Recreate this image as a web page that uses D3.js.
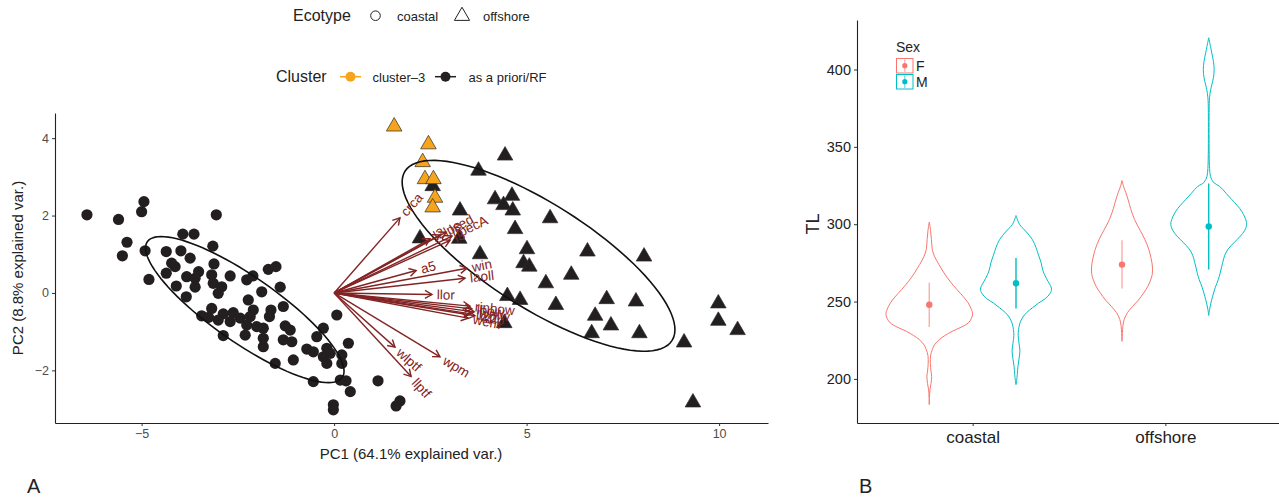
<!DOCTYPE html>
<html>
<head>
<meta charset="utf-8">
<script src="https://cdn.jsdelivr.net/npm/d3@7"></script>
<style>
body { margin: 0; background: #fff; }
text { font-family: "Liberation Sans", Arial, Helvetica, sans-serif; }
</style>
</head>
<body>
<div id="chart"></div>
<script>
// ---- panel A: PCA scores ----
var coastalX = [-6.42,-5.60,-4.94,-5.00,-3.06,-5.38,-5.50,-4.91,-4.81,-3.93,-3.64,-3.15,-4.36,-3.98,-3.74,-4.22,-4.13,-4.36,-3.12,-3.83,
  -3.52,-3.61,-4.10,-3.61,-3.18,-3.14,-2.92,-3.01,-2.70,-3.84,-2.27,-2.11,-1.71,-1.51,-1.40,-1.88,-2.23,-3.18,-3.44,-3.26,
  -2.88,-2.62,-3.01,-2.70,-2.44,-2.10,-2.18,-2.27,-2.01,-1.84,-2.31,-2.88,-1.64,-1.68,-1.32,-1.27,-1.14,-1.32,-1.10,-1.84,
  -1.84,-1.53,-1.06,-0.71,-0.54,-0.45,-0.28,-0.19,-0.28,-0.10,-0.19,0.20,0.20,0.37,0.07,-0.54,0.16,0.31,0.42,-0.02,
  -0.02,1.14,1.61,1.71];
var coastalY = [2.02,1.90,2.36,2.10,2.02,1.31,0.96,1.09,0.35,1.52,1.52,1.21,1.07,1.09,0.90,0.77,0.68,0.51,0.75,0.42,
  0.55,0.38,0.18,0.15,0.47,0.25,0.16,-0.01,0.44,-0.10,0.34,0.44,0.61,0.68,0.15,0.03,-0.18,-0.40,-0.59,-0.63,
  -0.54,-0.51,-0.70,-0.74,-0.65,-0.44,-0.61,-0.83,-0.87,-0.91,-1.09,-1.10,-0.44,-0.61,-0.35,-0.85,-0.96,-1.21,-1.26,-1.17,
  -1.39,-1.82,-1.73,-1.45,-1.52,-1.13,-0.91,-1.43,-1.65,-1.56,-1.82,-1.60,-1.82,-1.30,-0.57,-2.29,-2.25,-2.27,-2.55,-2.89,
  -3.02,-2.27,-2.92,-2.79];

var offshoreX = [2.56,4.44,3.75,4.18,4.62,4.40,4.64,3.27,5.61,4.70,2.23,3.25,5.01,3.79,4.92,5.07,6.58,8.05,6.16,5.50,
  4.50,4.83,5.76,7.08,7.84,9.98,6.78,7.19,9.98,10.48,4.42,6.69,7.93,9.09,9.32,
  1.56,2.45,2.30,2.36,2.58,2.62,2.56];
var offshoreY = [2.76,3.55,3.16,2.42,2.51,2.27,2.13,2.13,1.93,1.65,1.41,1.40,1.13,1.00,0.77,0.68,1.07,0.94,0.47,0.25,
  -0.08,-0.18,-0.31,-0.16,-0.22,-0.27,-0.59,-0.84,-0.72,-0.96,-0.78,-1.04,-1.04,-1.28,-2.83,
  4.30,3.84,3.38,2.94,2.94,2.46,2.21];
var offshoreCluster = ["rf","rf","rf","rf","rf","rf","rf","rf","rf","rf","rf","rf","rf","rf","rf","rf","rf","rf","rf","rf",
  "rf","rf","rf","rf","rf","rf","rf","rf","rf","rf","rf","rf","rf","rf","rf",
  "c3","c3","c3","c3","c3","c3","c3"];

// variable loadings (arrows)
var varNames = ["crca","lpecA","lsed","l3","lpe","l2","a5","win","laoll","llor",
  "rinbow","lbow","wmw","wem","ll2p","w2p","wlptf","llptf","wpm"];
var varX = [1.71,3.06,2.91,3.01,2.75,2.49,2.13,3.45,3.40,2.54,
  3.53,3.58,3.64,3.48,3.56,3.66,1.58,2.00,2.75];
var varY = [1.94,1.47,1.57,1.36,1.50,1.40,0.58,0.64,0.38,-0.04,
  -0.34,-0.41,-0.49,-0.65,-0.54,-0.59,-1.40,-2.16,-1.65];

// normal data ellipses per ecotype
var ellGroup = ["coastal","offshore"];
var ellCx = [-2.32, 5.31];
var ellCy = [-0.43, 0.96];
var ellA = [3.08, 4.10];
var ellB = [0.85, 1.35];
var ellAngle = [-34.7, -32.2];

// ---- panel B: TL violins ----
var ecotypes = ["coastal","offshore"];
var sexes = ["F","M"];
var sexColor = ["#F8766D","#00BFC4"];
var coastalF = [[183.4,0],[188,0.005],[193,0.015],[197,0.04],[201.7,0.055],[205,0.04],[210,0.025],[215,0.03],[219,0.07],[222,0.12],
  [225.4,0.23],[228,0.36],[230.8,0.53],[233.5,0.74],[236.2,0.9],[239,0.97],[242.2,1],[245,0.97],[249,0.9],[253,0.79],
  [257.7,0.64],[263,0.48],[268.5,0.34],[274,0.22],[279.3,0.12],[283.6,0.07],[290,0.05],[296,0.03],[301.3,0]];
var coastalM = [[196.3,0],[199,0.015],[203,0.03],[208,0.045],[213,0.07],[218,0.09],[223,0.07],[228,0.05],[232,0.06],[236,0.09],
  [240,0.16],[243,0.25],[246,0.38],[249,0.52],[252,0.68],[255,0.78],[258,0.82],[261,0.78],[265,0.7],[270,0.62],
  [275,0.58],[280,0.52],[285,0.46],[290,0.38],[295,0.24],[300,0.08],[305.6,0]];
var offshoreF = [[224.3,0],[230,0.01],[234,0.02],[238.4,0.05],[243,0.13],[247,0.25],[251,0.38],[255.6,0.5],[260,0.6],[264,0.66],
  [268,0.7],[273,0.7],[278,0.67],[283.6,0.62],[290,0.53],[296,0.42],[303,0.29],[310,0.2],[315,0.15],[320.3,0.09],
  [324,0.04],[328.2,0]];
var offshoreM = [[241,0],[245,0.02],[249,0.05],[253.4,0.09],[259,0.15],[264.2,0.22],[268,0.26],[272.8,0.3],[276,0.33],[280,0.37],
  [284,0.45],[288,0.58],[292,0.72],[296,0.83],[300,0.875],[304,0.84],[308.4,0.76],[312,0.66],[316,0.53],[320,0.4],
  [324.5,0.25],[327,0.11],[331,0.04],[336,0.02],[345,0.01],[355,0.008],[370,0.008],[378,0.012],[382,0.02],[387,0.045],
  [390,0.07],[395,0.11],[400,0.125],[405,0.11],[410.8,0.07],[415,0.04],[420.5,0]];
var sumEco = ["coastal","coastal","offshore","offshore"];
var sumSex = ["F","M","F","M"];
var sumMean = [247.9, 261.8, 273.9, 298.5];
var sumLo = [233.6, 245.5, 258.4, 270.7];
var sumHi = [262.1, 278.2, 289.6, 326.3];

var W = 1279, H = 498;
var svg = d3.select("#chart").append("svg").attr("width", W).attr("height", H);

var dark = "#231f20", orange = "#F7A41D", loadCol = "#832424";

// ================= panel A =================
var xA = d3.scaleLinear().domain([-7.25, 11.27]).range([55, 768]);
var yA = d3.scaleLinear().domain([-3.36, 4.65]).range([423, 113]);

var gA = svg.append("g");

// points
var circles = coastalX.map(function(d, i) { return {x: d, y: coastalY[i]}; });
gA.selectAll(".cpt").data(circles).enter().append("circle")
  .attr("cx", function(d) { return xA(d.x); })
  .attr("cy", function(d) { return yA(d.y); })
  .attr("r", 5.6)
  .attr("fill", dark);

var tris = offshoreX.map(function(d, i) { return {x: d, y: offshoreY[i], c: offshoreCluster[i]}; });
tris.sort(function(a, b) { return (a.c === "c3") - (b.c === "c3"); });
var triSym = d3.symbol().type(d3.symbolTriangle).size(105);
gA.selectAll(".tpt").data(tris).enter().append("path")
  .attr("d", triSym)
  .attr("transform", function(d) { return "translate(" + xA(d.x) + "," + yA(d.y) + ")"; })
  .attr("fill", function(d) { return d.c === "c3" ? orange : dark; })
  .attr("stroke", "#2b2b2b")
  .attr("stroke-width", 0.7);

// ellipses
var ellLine = d3.line().x(function(p) { return xA(p[0]); }).y(function(p) { return yA(p[1]); });
ellGroup.forEach(function(g, k) {
  var th = ellAngle[k] * Math.PI / 180;
  var pts = d3.range(0, 101).map(function(j) {
    var t = j / 100 * 2 * Math.PI;
    var u = ellA[k] * Math.cos(t), v = ellB[k] * Math.sin(t);
    return [ellCx[k] + u * Math.cos(th) - v * Math.sin(th), ellCy[k] + u * Math.sin(th) + v * Math.cos(th)];
  });
  gA.append("path").attr("d", ellLine(pts))
    .attr("fill", "none").attr("stroke", "#111").attr("stroke-width", 1.6);
});

// loading arrows
var ox = xA(0), oy = yA(0);
varNames.forEach(function(name, i) {
  var ex = xA(varX[i]), ey = yA(varY[i]);
  var ang = Math.atan2(ey - oy, ex - ox);
  var L = 8, sp = Math.PI / 6;
  gA.append("line").attr("x1", ox).attr("y1", oy).attr("x2", ex).attr("y2", ey)
    .attr("stroke", loadCol).attr("stroke-width", 1.4);
  gA.append("path")
    .attr("d", "M" + (ex - L * Math.cos(ang - sp)) + "," + (ey - L * Math.sin(ang - sp)) +
      "L" + ex + "," + ey +
      "L" + (ex - L * Math.cos(ang + sp)) + "," + (ey - L * Math.sin(ang + sp)))
    .attr("fill", "none").attr("stroke", loadCol).attr("stroke-width", 1.4);
  var lx = ex + 5 * Math.cos(ang), ly = ey + 5 * Math.sin(ang);
  gA.append("text")
    .attr("transform", "translate(" + lx + "," + ly + ") rotate(" + (ang * 180 / Math.PI) + ")")
    .attr("dy", "0.35em")
    .attr("font-size", 13.5)
    .attr("fill", loadCol)
    .text(name);
});

// axes
function styleAxis(g, fs, col) {
  g.select(".domain").attr("stroke", "#222").attr("stroke-width", 1.1);
  g.selectAll(".tick line").attr("stroke", "#333");
  g.selectAll(".tick text").attr("font-size", fs).attr("fill", col)
    .attr("font-family", "'Liberation Sans', Arial, sans-serif");
}
var axA_x = svg.append("g").attr("transform", "translate(0,423)")
  .call(d3.axisBottom(xA).tickValues([-5, 0, 5, 10]).tickSize(3).tickSizeOuter(0).tickPadding(3));
styleAxis(axA_x, 12.5, "#4d4d4d");
var axA_y = svg.append("g").attr("transform", "translate(55,0)")
  .call(d3.axisLeft(yA).tickValues([-2, 0, 2, 4]).tickSize(3).tickSizeOuter(0).tickPadding(3));
styleAxis(axA_y, 12.5, "#4d4d4d");

svg.append("text").attr("x", 411).attr("y", 459).attr("text-anchor", "middle")
  .attr("font-size", 15).attr("fill", "#222").text("PC1 (64.1% explained var.)");
svg.append("text").attr("transform", "translate(23,268) rotate(-90)").attr("text-anchor", "middle")
  .attr("font-size", 15).attr("fill", "#222").text("PC2 (8.8% explained var.)");

// legends A
var lg1 = svg.append("g");
lg1.append("text").attr("x", 293).attr("y", 21).attr("font-size", 16).attr("fill", "#222").text("Ecotype");
lg1.append("circle").attr("cx", 375.5).attr("cy", 15.7).attr("r", 4.8)
  .attr("fill", "none").attr("stroke", "#222").attr("stroke-width", 1);
lg1.append("text").attr("x", 397).attr("y", 20.5).attr("font-size", 13).attr("fill", "#222").text("coastal");
lg1.append("path").attr("d", d3.symbol().type(d3.symbolTriangle).size(100))
  .attr("transform", "translate(462,16)")
  .attr("fill", "none").attr("stroke", "#222").attr("stroke-width", 1);
lg1.append("text").attr("x", 483).attr("y", 20.5).attr("font-size", 13).attr("fill", "#222").text("offshore");

var lg2 = svg.append("g");
lg2.append("text").attr("x", 276).attr("y", 82).attr("font-size", 16).attr("fill", "#222").text("Cluster");
[[340, orange, 372.5, "cluster\u20133"], [435, dark, 468.5, "as a priori/RF"]].forEach(function(k) {
  lg2.append("line").attr("x1", k[0]).attr("x2", k[0] + 21).attr("y1", 76.7).attr("y2", 76.7)
    .attr("stroke", k[1]).attr("stroke-width", 1.5);
  lg2.append("circle").attr("cx", k[0] + 10.5).attr("cy", 76.7).attr("r", 5).attr("fill", k[1]);
  lg2.append("text").attr("x", k[2]).attr("y", 81.5).attr("font-size", 13).attr("fill", "#222").text(k[3]);
});

svg.append("text").attr("x", 27).attr("y", 493).attr("font-size", 20).attr("fill", "#222").text("A");

// ================= panel B =================
var yB = d3.scaleLinear().domain([171.5, 432]).range([423, 20]);
var xB = d3.scalePoint().domain(ecotypes).range([857, 1281]).padding(0.6);
var step = xB.step();
var colB = d3.scaleOrdinal().domain(sexes).range(sexColor);
var dodge = d3.scaleOrdinal().domain(sexes).range([-0.225 * step, 0.225 * step]);
var wB = d3.scaleLinear().domain([0, 1]).range([0, 0.225 * step]);

var violins = [
  {eco: "coastal", sex: "F", prof: coastalF},
  {eco: "coastal", sex: "M", prof: coastalM},
  {eco: "offshore", sex: "F", prof: offshoreF},
  {eco: "offshore", sex: "M", prof: offshoreM}
];
var gB = svg.append("g");
violins.forEach(function(v) {
  var cx = xB(v.eco) + dodge(v.sex);
  var area = d3.area().curve(d3.curveCatmullRom)
    .y(function(d) { return yB(d[0]); })
    .x0(function(d) { return cx - wB(d[1]); })
    .x1(function(d) { return cx + wB(d[1]); });
  gB.append("path").attr("d", area(v.prof))
    .attr("fill", "none").attr("stroke", colB(v.sex)).attr("stroke-width", 1);
});
sumMean.forEach(function(m, i) {
  var cx = xB(sumEco[i]) + dodge(sumSex[i]);
  gB.append("line").attr("x1", cx).attr("x2", cx).attr("y1", yB(sumLo[i])).attr("y2", yB(sumHi[i]))
    .attr("stroke", colB(sumSex[i])).attr("stroke-width", 1.4)
    .attr("stroke-opacity", sumSex[i] === "F" ? 0.6 : 1);
  gB.append("circle").attr("cx", cx).attr("cy", yB(m)).attr("r", 3.2).attr("fill", colB(sumSex[i]));
});

var axB_x = svg.append("g").attr("transform", "translate(0,423)")
  .call(d3.axisBottom(xB).tickSize(3).tickSizeOuter(0).tickPadding(5));
styleAxis(axB_x, 17, "#222");
var axB_y = svg.append("g").attr("transform", "translate(857,0)")
  .call(d3.axisLeft(yB).tickValues([200, 250, 300, 350, 400]).tickSize(3).tickSizeOuter(0).tickPadding(3));
styleAxis(axB_y, 14.5, "#222");

svg.append("text").attr("transform", "translate(819,224) rotate(-90)").attr("text-anchor", "middle")
  .attr("font-size", 18).attr("fill", "#222").text("TL");

// legend B
var lg3 = svg.append("g");
lg3.append("text").attr("x", 896).attr("y", 52).attr("font-size", 14).attr("fill", "#222").text("Sex");
sexes.forEach(function(s, i) {
  var y0 = 58.5 + i * 16;
  lg3.append("rect").attr("x", 896.5).attr("y", y0).attr("width", 16.5).attr("height", 14.5)
    .attr("fill", "#fff").attr("stroke", colB(s)).attr("stroke-width", 1);
  lg3.append("line").attr("x1", 904.8).attr("x2", 904.8).attr("y1", y0 + 1).attr("y2", y0 + 13.5)
    .attr("stroke", colB(s)).attr("stroke-width", 1).attr("stroke-opacity", 0.7);
  lg3.append("circle").attr("cx", 904.8).attr("cy", y0 + 7.2).attr("r", 2.6).attr("fill", colB(s));
  lg3.append("text").attr("x", 916).attr("y", y0 + 12.5).attr("font-size", 14).attr("fill", "#222").text(s);
});

svg.append("text").attr("x", 859).attr("y", 493).attr("font-size", 20).attr("fill", "#222").text("B");
</script>
</body>
</html>
